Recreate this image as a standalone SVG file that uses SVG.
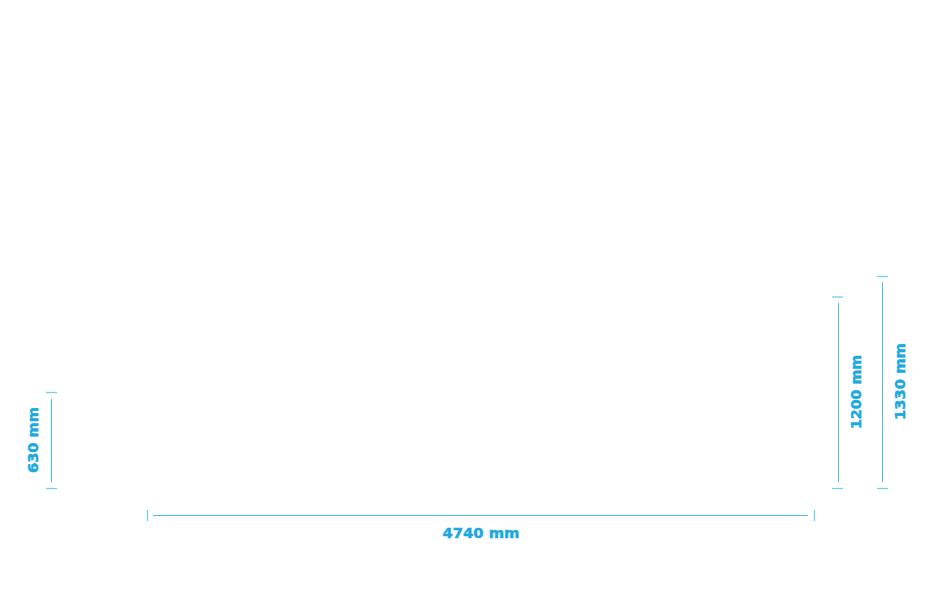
<svg xmlns="http://www.w3.org/2000/svg" width="952" height="595" viewBox="0 0 952 595">
<style>
.ln{stroke:#45c0ea;stroke-width:1;fill:none}
.tk{stroke:#6fd0f0;stroke-width:1.3;fill:none}
.lb{font-family:"DejaVu Sans",sans-serif;font-weight:bold;font-size:14.5px;fill:#1ba9de;stroke:#1ba9de;stroke-width:0.5;text-anchor:middle}
</style>
<rect width="952" height="595" fill="#ffffff"/>
<g id="dim-630">
<line class="tk" x1="46" y1="392.5" x2="57" y2="392.5"/>
<line class="ln" x1="51.5" y1="399" x2="51.5" y2="482"/>
<line class="tk" x1="46" y1="488.5" x2="57" y2="488.5"/>
<text class="lb" transform="translate(38,440) rotate(-90)" textLength="66" lengthAdjust="spacingAndGlyphs">630 mm</text>
</g>
<g id="dim-4740">
<line class="tk" x1="147.5" y1="510" x2="147.5" y2="521"/>
<line class="ln" x1="153" y1="515.5" x2="808" y2="515.5"/>
<line class="tk" x1="814.5" y1="510" x2="814.5" y2="521"/>
<text class="lb" x="481" y="537.5" textLength="77" lengthAdjust="spacingAndGlyphs">4740 mm</text>
</g>
<g id="dim-1200">
<line class="tk" x1="832" y1="297" x2="843" y2="297"/>
<line class="ln" x1="838.5" y1="303" x2="838.5" y2="482"/>
<line class="tk" x1="832" y1="488.5" x2="843" y2="488.5"/>
<text class="lb" transform="translate(861,392) rotate(-90)" textLength="74" lengthAdjust="spacingAndGlyphs">1200 mm</text>
</g>
<g id="dim-1330">
<line class="tk" x1="877" y1="276.5" x2="888" y2="276.5"/>
<line class="ln" x1="882.5" y1="282" x2="882.5" y2="482"/>
<line class="tk" x1="877" y1="488.5" x2="888" y2="488.5"/>
<text class="lb" transform="translate(905,381.5) rotate(-90)" textLength="77" lengthAdjust="spacingAndGlyphs">1330 mm</text>
</g>
</svg>
